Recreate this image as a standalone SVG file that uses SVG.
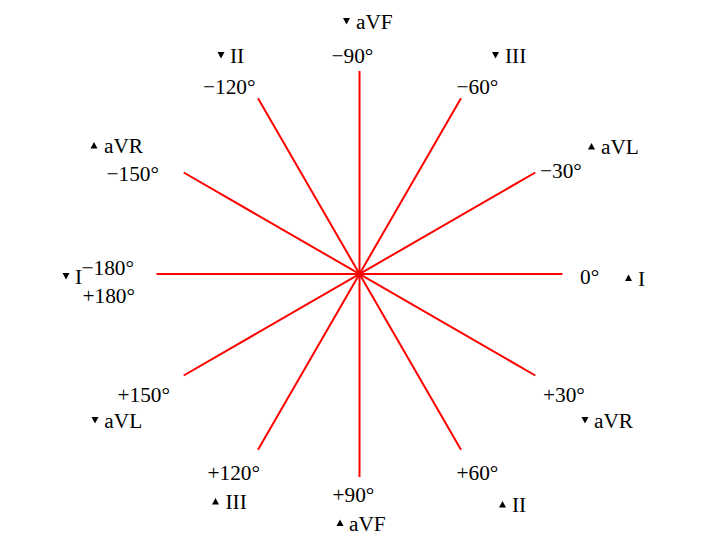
<svg xmlns="http://www.w3.org/2000/svg" width="720" height="540" viewBox="0 0 720 540">
<style>
text{font-family:"Liberation Serif","Times New Roman",serif;font-size:21.33px;fill:#000}
.ax{stroke:#ff0000;stroke-width:2;fill:none}
.tri{fill:#000}
</style>
<defs>
<path id="dn" d="M0,0 L7,0 L3.5,6.5 Z"/>
<path id="up" d="M0,6.5 L7,6.5 L3.5,0 Z"/>
</defs>
<rect width="720" height="540" fill="#fff"/>
<g id="connectors">
<line class="ax" x1="156.5" y1="274" x2="562.5" y2="274"/>
<line class="ax" x1="359.5" y1="71" x2="359.5" y2="477"/>
<line class="ax" x1="183.7" y1="172.5" x2="535.3" y2="375.5"/>
<line class="ax" x1="183.7" y1="375.5" x2="535.3" y2="172.5"/>
<line class="ax" x1="258" y1="98.2" x2="461" y2="449.8"/>
<line class="ax" x1="258" y1="449.8" x2="461" y2="98.2"/>
</g>
<g id="angle-0"><text x="580" y="284">0°</text></g>
<g id="angle-m30"><text x="540" y="177.7">−30°</text></g>
<g id="angle-m60"><text x="456.5" y="94">−60°</text></g>
<g id="angle-m90"><text x="331.5" y="62.5">−90°</text></g>
<g id="angle-m120"><text x="203" y="94">−120°</text></g>
<g id="angle-m150"><text x="106.5" y="181">−150°</text></g>
<g id="angle-180"><text x="81.5" y="275">−180°</text><text x="82.5" y="302.7">+180°</text></g>
<g id="angle-p150"><text x="117.5" y="401.7">+150°</text></g>
<g id="angle-p120"><text x="207.5" y="480">+120°</text></g>
<g id="angle-p90"><text x="332.5" y="502">+90°</text></g>
<g id="angle-p60"><text x="456.5" y="480">+60°</text></g>
<g id="angle-p30"><text x="543" y="401.7">+30°</text></g>
<g id="lead-aVF-top"><use href="#dn" class="tri" x="343" y="18"/><text x="356" y="29">aVF</text></g>
<g id="lead-II-top"><use href="#dn" class="tri" x="217.5" y="52"/><text x="230" y="63">II</text></g>
<g id="lead-III-top"><use href="#dn" class="tri" x="492" y="52"/><text x="505" y="63">III</text></g>
<g id="lead-aVR-left"><use href="#up" class="tri" x="90.5" y="142"/><text x="104" y="152.7">aVR</text></g>
<g id="lead-aVL-right"><use href="#up" class="tri" x="588" y="143"/><text x="601" y="154">aVL</text></g>
<g id="lead-I-left"><use href="#dn" class="tri" x="62.5" y="273"/><text x="75" y="284">I</text></g>
<g id="lead-I-right"><use href="#up" class="tri" x="625" y="274.5"/><text x="638" y="285.7">I</text></g>
<g id="lead-aVL-left"><use href="#dn" class="tri" x="91.5" y="417"/><text x="104.3" y="428.3">aVL</text></g>
<g id="lead-aVR-right"><use href="#dn" class="tri" x="581.5" y="417"/><text x="594" y="427.7">aVR</text></g>
<g id="lead-III-bottom"><use href="#up" class="tri" x="212" y="498"/><text x="225.5" y="509">III</text></g>
<g id="lead-aVF-bottom"><use href="#up" class="tri" x="336.5" y="519.5"/><text x="349" y="530.7">aVF</text></g>
<g id="lead-II-bottom"><use href="#up" class="tri" x="499" y="501"/><text x="512" y="512">II</text></g>
</svg>
